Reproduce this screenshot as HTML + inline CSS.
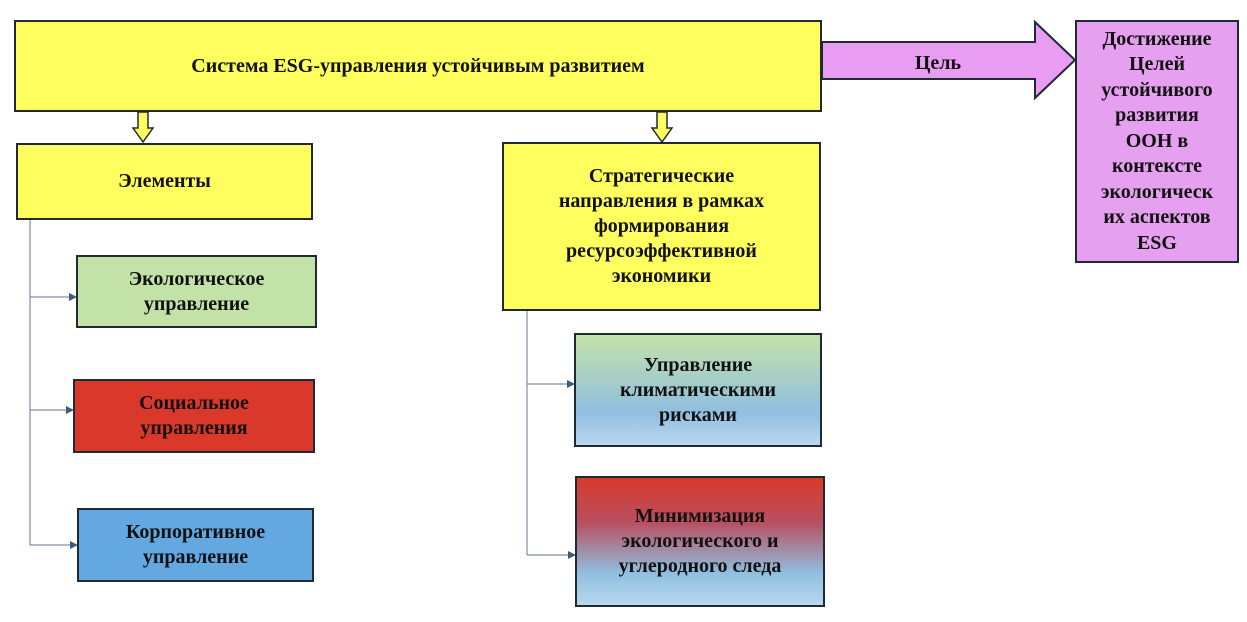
<!DOCTYPE html>
<html><head><meta charset="utf-8"><style>
body{margin:0;width:1247px;height:622px;background:#fff;position:relative;overflow:hidden;font-family:"Liberation Serif",serif;font-weight:bold;color:#111}
.b{position:absolute;box-sizing:border-box;border:2px solid #1f2a33;display:flex;align-items:center;justify-content:center;text-align:center;font-size:20px;line-height:25px}
</style></head><body>
<svg width="1247" height="622" style="position:absolute;left:0;top:0">
<defs><marker id="a" markerWidth="8" markerHeight="8" refX="7" refY="4" orient="auto" markerUnits="userSpaceOnUse"><path d="M0,0L8,4L0,8z" fill="#3d5a78"/></marker></defs>
<polygon points="822,42 1035,42 1035,22 1075,60 1035,98 1035,79 822,79" fill="#e89cf2" stroke="#1f2a33" stroke-width="2"/>
<text x="938" y="69" font-family="Liberation Serif" font-weight="bold" font-size="20" text-anchor="middle" fill="#111">Цель</text>
<polygon points="138,112 148,112 148,128 153,128 143,142 133,128 138,128" fill="#fefe5f" stroke="#1f2a33" stroke-width="1.5"/>
<polygon points="657,112 667,112 667,128 672,128 662,142 652,128 657,128" fill="#fefe5f" stroke="#1f2a33" stroke-width="1.5"/>
<g stroke="#7d90a6" stroke-width="1.2" fill="none">
<path d="M30,219V545"/>
<path d="M30,297H76" marker-end="url(#a)"/>
<path d="M30,410H73" marker-end="url(#a)"/>
<path d="M30,545H77" marker-end="url(#a)"/>
<path d="M527,310V555"/>
<path d="M527,384H574" marker-end="url(#a)"/>
<path d="M527,555H575" marker-end="url(#a)"/>
</g>
</svg>
<div class="b" style="left:14px;top:20px;width:808px;height:92px;background:#fefe5f;font-size:20px">Система ESG-управления устойчивым развитием</div>
<div class="b" style="left:1075px;top:20px;width:164px;height:243px;background:#e6a0f0;line-height:25.5px">Достижение<br>Целей<br>устойчивого<br>развития<br>ООН в<br>контексте<br>экологическ<br>их аспектов<br>ESG</div>
<div class="b" style="left:16px;top:143px;width:297px;height:77px;background:#fefe5f">Элементы</div>
<div class="b" style="left:502px;top:142px;width:319px;height:169px;background:#fefe5f">Стратегические<br>направления в рамках<br>формирования<br>ресурсоэффективной<br>экономики</div>
<div class="b" style="left:76px;top:255px;width:241px;height:73px;background:#c3e2a8">Экологическое<br>управление</div>
<div class="b" style="left:73px;top:379px;width:242px;height:74px;background:#d9382a">Социальное<br>управления</div>
<div class="b" style="left:77px;top:508px;width:237px;height:74px;background:#63a8e0">Корпоративное<br>управление</div>
<div class="b" style="left:574px;top:333px;width:248px;height:114px;background:linear-gradient(#c3e2a8,#90bfe0 70%,#b8d8ee)">Управление<br>климатическими<br>рисками</div>
<div class="b" style="left:575px;top:476px;width:250px;height:131px;background:linear-gradient(#d9382a,#b85060 35%,#90bfe0 75%,#b8d8ee)">Минимизация<br>экологического и<br>углеродного следа</div>
</body></html>
